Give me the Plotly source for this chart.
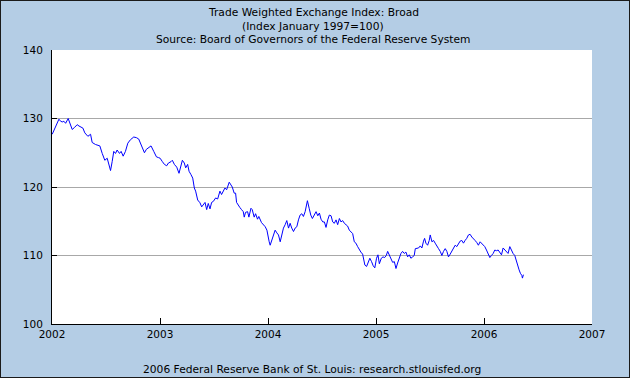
import plotly.graph_objects as go

# Decimal-year positions and index values
year_pos = [
    2002.002, 2002.018, 2002.042, 2002.064, 2002.080, 2002.095, 2002.110, 2002.126, 2002.150, 2002.166,
    2002.187, 2002.209, 2002.233, 2002.250, 2002.264, 2002.286, 2002.304, 2002.332, 2002.357, 2002.372,
    2002.403, 2002.443, 2002.465, 2002.489, 2002.511, 2002.526, 2002.542, 2002.557, 2002.572, 2002.588,
    2002.603, 2002.625, 2002.640, 2002.659, 2002.680, 2002.702, 2002.726, 2002.757, 2002.782, 2002.803,
    2002.819, 2002.834, 2002.856, 2002.874, 2002.896, 2002.917, 2002.942, 2002.967, 2002.985,
    2003.001, 2003.022, 2003.041, 2003.062, 2003.078, 2003.102, 2003.114, 2003.133, 2003.155, 2003.176,
    2003.195, 2003.207, 2003.225, 2003.238, 2003.256, 2003.269, 2003.287, 2003.303, 2003.318, 2003.330,
    2003.349, 2003.370, 2003.386, 2003.401, 2003.417, 2003.432, 2003.447, 2003.463, 2003.478, 2003.494,
    2003.515, 2003.534, 2003.555, 2003.570, 2003.586, 2003.601, 2003.617, 2003.632, 2003.641, 2003.657,
    2003.669, 2003.687, 2003.700, 2003.709, 2003.724, 2003.740, 2003.755, 2003.771, 2003.780, 2003.792,
    2003.811, 2003.823, 2003.842, 2003.854, 2003.872, 2003.885, 2003.903, 2003.915, 2003.940, 2003.960,
    2003.974, 2003.990, 2003.999,
    2004.011, 2004.020, 2004.036, 2004.051, 2004.066, 2004.082, 2004.097, 2004.113, 2004.128, 2004.143,
    2004.159, 2004.174, 2004.190, 2004.205, 2004.220, 2004.236, 2004.251, 2004.267, 2004.282, 2004.297,
    2004.313, 2004.328, 2004.344, 2004.356, 2004.365, 2004.381, 2004.396, 2004.411, 2004.430, 2004.445,
    2004.461, 2004.476, 2004.491, 2004.507, 2004.522, 2004.537, 2004.553, 2004.568, 2004.584, 2004.599,
    2004.614, 2004.630, 2004.645, 2004.661, 2004.676, 2004.691, 2004.707, 2004.722, 2004.737, 2004.753,
    2004.768, 2004.784, 2004.799, 2004.814, 2004.830, 2004.845, 2004.860, 2004.876, 2004.885, 2004.897,
    2004.913, 2004.928, 2004.943, 2004.959, 2004.974, 2004.989,
    2005.005, 2005.018, 2005.031, 2005.049, 2005.065, 2005.080, 2005.095, 2005.108, 2005.123, 2005.139,
    2005.154, 2005.170, 2005.185, 2005.200, 2005.216, 2005.231, 2005.246, 2005.262, 2005.277, 2005.293,
    2005.308, 2005.323, 2005.339, 2005.354, 2005.364, 2005.379, 2005.394, 2005.410, 2005.425, 2005.440,
    2005.450, 2005.462, 2005.478, 2005.493, 2005.502, 2005.518, 2005.533, 2005.548, 2005.564, 2005.579,
    2005.595, 2005.610, 2005.625, 2005.641, 2005.656, 2005.671, 2005.687, 2005.702, 2005.717, 2005.733,
    2005.748, 2005.764, 2005.779, 2005.794, 2005.810, 2005.825, 2005.840, 2005.856, 2005.871, 2005.887,
    2005.902, 2005.917, 2005.933, 2005.948, 2005.964, 2005.979, 2005.994,
    2006.007, 2006.023, 2006.038, 2006.054, 2006.069, 2006.085, 2006.100, 2006.115, 2006.131, 2006.146,
    2006.162, 2006.177, 2006.192, 2006.208, 2006.223, 2006.239, 2006.254, 2006.269, 2006.285, 2006.300,
    2006.316, 2006.325, 2006.337, 2006.350, 2006.356, 2006.365,
]

index_values = [
    127.7, 128.3, 129.1, 129.9, 129.6, 129.5, 129.6, 129.3, 130.0, 129.2,
    128.4, 128.7, 129.1, 128.9, 128.8, 128.6, 127.9, 127.4, 127.7, 126.5,
    126.2, 126.0, 124.9, 123.9, 124.2, 123.2, 122.4, 123.7, 125.2, 124.9,
    125.4, 124.9, 125.2, 124.5, 125.2, 126.4, 126.9, 127.3, 127.2, 127.0,
    126.4, 125.6, 125.0, 125.5, 125.8, 126.0, 125.2, 124.4, 124.3,
    124.2, 123.7, 123.3, 123.1, 123.5, 123.7, 123.9, 123.3, 122.9, 122.0,
    123.3, 123.9, 123.5, 122.8, 123.3, 122.3, 121.8, 121.3, 119.85, 119.4,
    118.1, 117.7, 117.1, 117.4, 117.75, 116.7, 117.6, 116.8, 117.75, 117.9,
    118.4, 118.25, 119.4, 118.9, 119.4, 119.85, 119.6, 120.3, 120.7, 120.3,
    120.0, 119.1, 119.1, 117.75, 117.3, 117.0, 116.7, 116.4, 115.6, 116.3,
    116.4, 115.6, 116.9, 116.7, 115.6, 116.1, 115.3, 115.7, 114.8, 114.5,
    114.2, 113.7, 112.7,
    112.0, 111.5, 112.3, 112.7, 113.7, 113.3, 113.0, 112.0, 113.0, 114.0,
    114.5, 115.1, 114.0, 114.7, 114.0, 113.5, 114.0, 114.2, 115.2, 115.9,
    116.1, 115.7, 116.4, 117.6, 118.0, 116.9, 115.9, 115.4, 115.9, 116.4,
    115.8, 116.2, 115.3, 114.9, 114.9, 114.1, 115.2, 115.9, 115.8, 114.9,
    114.7, 115.2, 114.5, 115.4, 114.9, 115.1, 114.7, 114.5, 114.3, 113.7,
    113.5, 113.2, 112.0, 111.8, 111.3, 110.8, 110.5, 110.2, 109.6, 108.6,
    108.4, 108.9, 109.6, 109.1, 108.5, 108.2,
    109.6, 110.1, 108.8, 109.6, 109.8, 109.7, 110.0, 110.6, 110.0, 109.4,
    109.0, 109.1, 108.1, 108.9, 109.6, 110.3, 110.6, 110.3, 110.5, 109.8,
    110.1, 109.6, 109.8, 110.0, 111.0, 111.0, 111.1, 111.4, 111.1, 112.1,
    112.5, 111.8, 111.5, 112.2, 113.0, 112.0, 112.2, 111.8, 111.3, 111.0,
    110.6, 110.0, 110.6, 111.0, 110.6, 109.8, 110.2, 110.6, 111.0, 111.5,
    111.3, 111.8, 112.1, 112.2, 111.8, 112.2, 112.5, 113.0, 113.1, 112.7,
    112.5, 112.2, 111.9, 111.5, 112.0, 111.8, 111.6,
    111.3, 110.8, 110.3, 109.7, 110.0, 110.3, 110.8, 110.7, 110.8, 110.5,
    110.1, 111.1, 110.8, 110.6, 110.3, 111.3, 110.7, 110.3, 110.0, 109.1,
    108.4, 107.9, 107.4, 107.1, 106.7, 107.2,
]

x_ticks = [2002, 2003, 2004, 2005, 2006, 2007]
x_tick_labels = ["2002", "2003", "2004", "2005", "2006", "2007"]
y_ticks = [100, 110, 120, 130, 140]

title_lines = [
    "Trade Weighted Exchange Index: Broad",
    "(Index January 1997=100)",
    "Source: Board of Governors of the Federal Reserve System",
]
footer_text = "2006 Federal Reserve Bank of St. Louis: research.stlouisfed.org"

W, H = 630, 378
L, R, T, B = 52, 38, 50, 54
PW, PH = W - L - R, H - T - B

BG = "#B4CDE5"
FONT = "DejaVu Sans"

fig = go.Figure()
fig.add_trace(go.Scatter(
    x=year_pos, y=index_values, mode="lines",
    line=dict(color="#0000FF", width=1),
    hoverinfo="x+y", showlegend=False,
))

def py(pix):
    return 1 - (pix - T) / PH

def px(pix):
    return (pix - L) / PW

annotations = []
for i, line in enumerate(title_lines):
    annotations.append(dict(
        text=line, xref="paper", yref="paper", x=px(313), y=py(12 + 14 * i),
        xanchor="center", yanchor="middle", showarrow=False,
        font=dict(family=FONT, size=10.7, color="#000000"),
    ))
annotations.append(dict(
    text=footer_text, xref="paper", yref="paper", x=px(312), y=py(369),
    xanchor="center", yanchor="middle", showarrow=False,
    font=dict(family=FONT, size=10.7, color="#000000"),
))

shapes = [dict(
    type="rect", xref="paper", yref="paper",
    x0=px(0), x1=px(W), y0=py(H), y1=py(0),
    line=dict(color="#1a1a1a", width=2), fillcolor="rgba(0,0,0,0)", layer="above",
)]

fig.update_layout(
    width=W, height=H,
    margin=dict(l=L, r=R, t=T, b=B, pad=0),
    paper_bgcolor=BG, plot_bgcolor="#FFFFFF",
    font=dict(family=FONT, size=10.5, color="#000000"),
    annotations=annotations, shapes=shapes,
    showlegend=False,
)
fig.update_xaxes(
    range=[2002, 2007], tickmode="array", tickvals=x_ticks, ticktext=x_tick_labels,
    showgrid=False, zeroline=False, showline=True, linecolor="#000000", linewidth=1,
    ticks="inside", ticklen=6, tickcolor="#000000", tickwidth=1,
    tickfont=dict(family=FONT, size=10.5, color="#000000"),
)
fig.update_yaxes(
    range=[100, 140], tickmode="array", tickvals=y_ticks,
    showgrid=True, gridcolor="#A8A8A8", gridwidth=1, zeroline=False,
    showline=True, linecolor="#000000", linewidth=1,
    ticks="inside", ticklen=5, tickcolor="#000000", tickwidth=1,
    ticklabelstandoff=6,
    tickfont=dict(family=FONT, size=10.5, color="#000000"),
)

fig.write_html(
    "out.html",
    config={"displayModeBar": False},
    post_script="document.body.style.margin='0';document.body.style.padding='0';",
)
